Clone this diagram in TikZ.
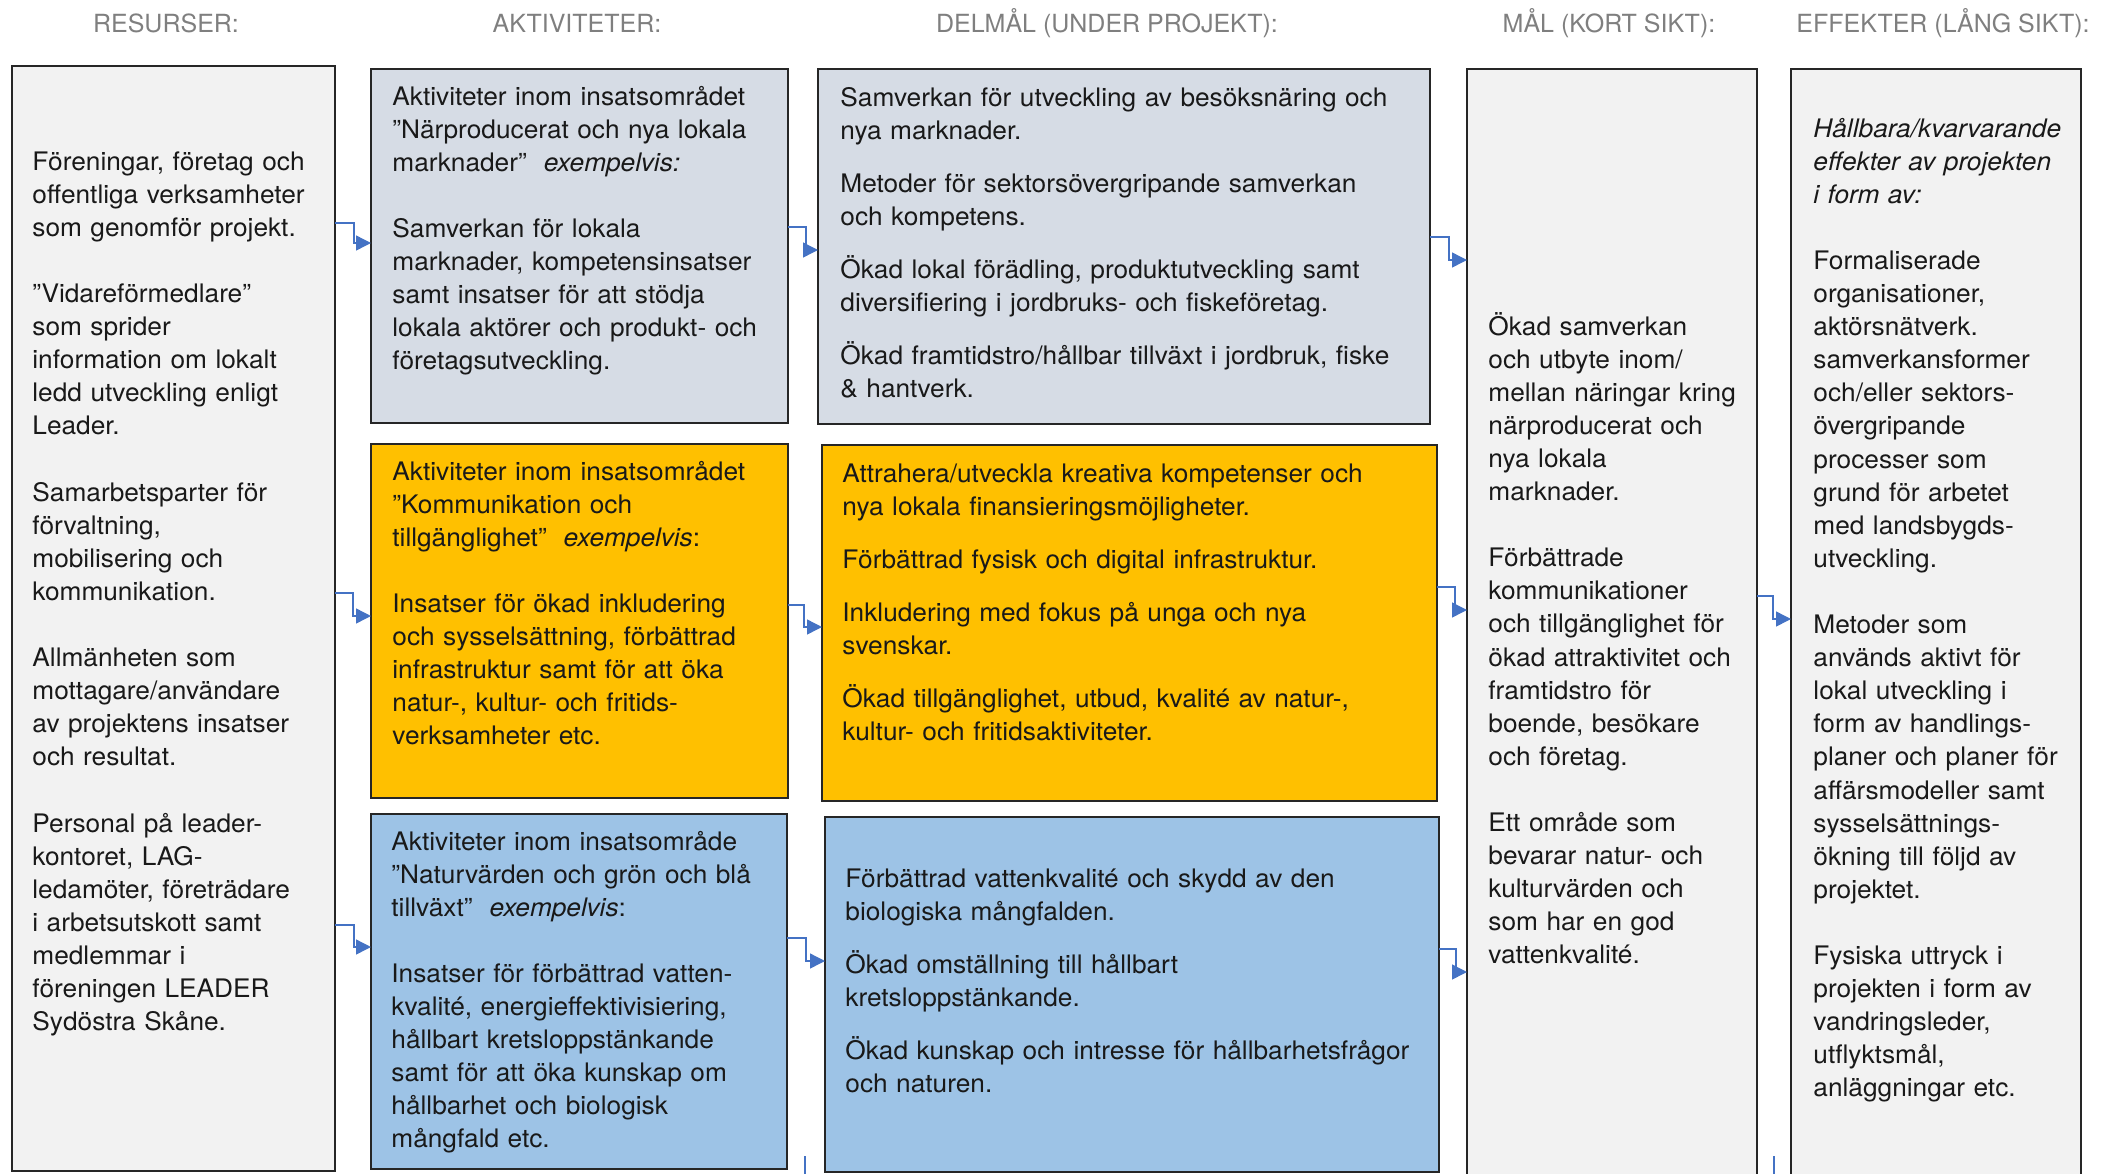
\documentclass[tikz,border=0pt]{standalone}
\usepackage{fontspec}
\setmainfont{TeX Gyre Heros}
\newfontfamily\bodyfont[FakeStretch=1.03]{TeX Gyre Heros}
\usetikzlibrary{arrows.meta}

\definecolor{headgray}{HTML}{7F7F7F}
\definecolor{boxgray}{HTML}{F2F2F2}
\definecolor{slate}{HTML}{D6DCE5}
\definecolor{amber}{HTML}{FFC000}
\definecolor{sky}{HTML}{9DC3E6}
\definecolor{linkblue}{HTML}{4472C4}

\begin{document}
\begin{tikzpicture}[x=0.5pt, y=-0.5pt,
    box/.style={draw=black!85, line width=1pt, rectangle, inner sep=0pt, outer sep=0pt, anchor=north west},
    txt/.style={anchor=base west, inner sep=0pt, align=left, text width=#1, text=black!90,
        font=\bodyfont\fontsize{12.75}{16.55}\selectfont},
    head/.style={anchor=base, inner sep=0pt, text=headgray, font=\fontsize{12.5}{15}\selectfont},
    link/.style={draw=linkblue, line width=0.7pt, -{Triangle[length=7.5pt, width=7.5pt]}},
    stub/.style={draw=linkblue, line width=0.7pt}]
    \useasboundingbox (0,0) rectangle (2110,1173);

    \node[head] (hRes) at (166,32) {RESURSER:};
    \node[head] (hAct) at (577,32) {AKTIVITETER:};
    \node[head] (hDel) at (1107,32) {DELMÅL (UNDER PROJEKT):};
    \node[head] (hMal) at (1609,32) {MÅL (KORT SIKT):};
    \node[head] (hEff) at (1943,32) {EFFEKTER (LÅNG SIKT):};

    \node[box, fill=boxgray, minimum width=161.5pt, minimum height=552.5pt] (res) at (12,66) {};
    \node[box, fill=slate, minimum width=208.5pt, minimum height=177pt] (act1) at (371,69) {};
    \node[box, fill=amber, minimum width=208.5pt, minimum height=177pt] (act2) at (371,444) {};
    \node[box, fill=sky, minimum width=208pt, minimum height=177.5pt] (act3) at (371,814) {};
    \node[box, fill=slate, minimum width=306pt, minimum height=177.5pt] (del1) at (818,69) {};
    \node[box, fill=amber, minimum width=307.5pt, minimum height=178pt] (del2) at (822,445) {};
    \node[box, fill=sky, minimum width=307pt, minimum height=177.5pt] (del3) at (825,817) {};
    \node[box, fill=boxgray, minimum width=145pt, minimum height=565pt] (mal) at (1467,69) {};
    \node[box, fill=boxgray, minimum width=145pt, minimum height=565pt] (eff) at (1791,69) {};

    \node[txt=148pt] (resTxt) at ([shift={(20,104)}]res.north west) {%
        Föreningar, företag och\\ offentliga verksamheter\\ som genomför projekt.\\[16.55pt]
        ”Vidareförmedlare”\\ som sprider\\ information om lokalt\\ ledd utveckling enligt\\ Leader.\\[16.55pt]
        Samarbetsparter för\\ förvaltning,\\ mobilisering och\\ kommunikation.\\[16.55pt]
        Allmänheten som\\ mottagare/användare\\ av projektens insatser\\ och resultat.\\[16.55pt]
        Personal på leader-\\ kontoret, LAG-\\ ledamöter, företrädare\\ i arbetsutskott samt\\ medlemmar i\\ föreningen LEADER\\ Sydöstra Skåne.};

    \node[txt=195pt] (act1Txt) at ([shift={(21,36)}]act1.north west) {%
        Aktiviteter inom insatsområdet\\ ”Närproducerat och nya lokala\\ marknader”~\ \textit{exempelvis:}\\[16.55pt]
        Samverkan för lokala\\ marknader, kompetensinsatser\\ samt insatser för att stödja\\ lokala aktörer och produkt- och\\ företagsutveckling.};
    \node[txt=195pt] (act2Txt) at ([shift={(21,36)}]act2.north west) {%
        Aktiviteter inom insatsområdet\\ ”Kommunikation och\\ tillgänglighet”~\ \textit{exempelvis}:\\[16.55pt]
        Insatser för ökad inkludering\\ och sysselsättning, förbättrad\\ infrastruktur samt för att öka\\ natur-, kultur- och fritids-\\ verksamheter etc.};
    \node[txt=195pt] (act3Txt) at ([shift={(20,36)}]act3.north west) {%
        Aktiviteter inom insatsområde\\ ”Naturvärden och grön och blå\\ tillväxt”~\ \textit{exempelvis}:\\[16.55pt]
        Insatser för förbättrad vatten-\\ kvalité, energieffektivisiering,\\ hållbart kretsloppstänkande\\ samt för att öka kunskap om\\ hållbarhet och biologisk\\ mångfald etc.};

    \node[txt=292pt] (del1Txt) at ([shift={(22,37)}]del1.north west) {%
        Samverkan för utveckling av besöksnäring och\\ nya marknader.\\[10pt]
        Metoder för sektorsövergripande samverkan\\ och kompetens.\\[10pt]
        Ökad lokal förädling, produktutveckling samt\\ diversifiering i jordbruks- och fiskeföretag.\\[10pt]
        Ökad framtidstro/hållbar tillväxt i jordbruk, fiske\\ \& hantverk.};
    \node[txt=292pt] (del2Txt) at ([shift={(20,37)}]del2.north west) {%
        Attrahera/utveckla kreativa kompetenser och\\ nya lokala finansieringsmöjligheter.\\[10pt]
        Förbättrad fysisk och digital infrastruktur.\\[10pt]
        Inkludering med fokus på unga och nya\\ svenskar.\\[10pt]
        Ökad tillgänglighet, utbud, kvalité av natur-,\\ kultur- och fritidsaktiviteter.};
    \node[txt=292pt] (del3Txt) at ([shift={(20,70)}]del3.north west) {%
        Förbättrad vattenkvalité och skydd av den\\ biologiska mångfalden.\\[10pt]
        Ökad omställning till hållbart\\ kretsloppstänkande.\\[10pt]
        Ökad kunskap och intresse för hållbarhetsfrågor\\ och naturen.};

    \node[txt=134pt] (malTxt) at ([shift={(21,266)}]mal.north west) {%
        Ökad samverkan\\ och utbyte inom/\\ mellan näringar kring\\ närproducerat och\\ nya lokala\\ marknader.\\[16.55pt]
        Förbättrade\\ kommunikationer\\ och tillgänglighet för\\ ökad attraktivitet och\\ framtidstro för\\ boende, besökare\\ och företag.\\[16.55pt]
        Ett område som\\ bevarar natur- och\\ kulturvärden och\\ som har en god\\ vattenkvalité.};
    \node[txt=134pt] (effTxt) at ([shift={(22,68)}]eff.north west) {%
        \textit{Hållbara/kvarvarande}\\ \textit{effekter av projekten}\\ \textit{i form av:}\\[16.55pt]
        Formaliserade\\ organisationer,\\ aktörsnätverk.\\ samverkansformer\\ och/eller sektors-\\ övergripande\\ processer som\\ grund för arbetet\\ med landsbygds-\\ utveckling.\\[16.55pt]
        Metoder som\\ används aktivt för\\ lokal utveckling i\\ form av handlings-\\ planer och planer för\\ affärsmodeller samt\\ sysselsättnings-\\ ökning till följd av\\ projektet.\\[16.55pt]
        Fysiska uttryck i\\ projekten i form av\\ vandringsleder,\\ utflyktsmål,\\ anläggningar etc.};

    \draw[link] (res.east |- 0,223) -- ++(19,0) |- (act1.west |- 0,243);
    \draw[link] (res.east |- 0,593) -- ++(18,0) |- (act2.west |- 0,616);
    \draw[link] (res.east |- 0,925) -- ++(19,0) |- (act3.west |- 0,947);
    \draw[link] (act1.east |- 0,227) -- ++(18,0) |- (del1.west |- 0,250);
    \draw[link] (act2.east |- 0,605) -- ++(16,0) |- (del2.west |- 0,627);
    \draw[link] (act3.east |- 0,938) -- ++(19,0) |- (del3.west |- 0,961);
    \draw[link] (del1.east |- 0,237) -- ++(19,0) |- (mal.west |- 0,260);
    \draw[link] (del2.east |- 0,587) -- ++(18,0) |- (mal.west |- 0,610);
    \draw[link] (del3.east |- 0,949) -- ++(17,0) |- (mal.west |- 0,972);
    \draw[link] (mal.east |- 0,596) -- ++(16,0) |- (eff.west |- 0,619);

    \coordinate (stubA) at (805,1156);
    \coordinate (stubB) at (1774,1156);
    \draw[stub] (stubA) -- ++(0,30);
    \draw[stub] (stubB) -- ++(0,30);
\end{tikzpicture}
\end{document}
